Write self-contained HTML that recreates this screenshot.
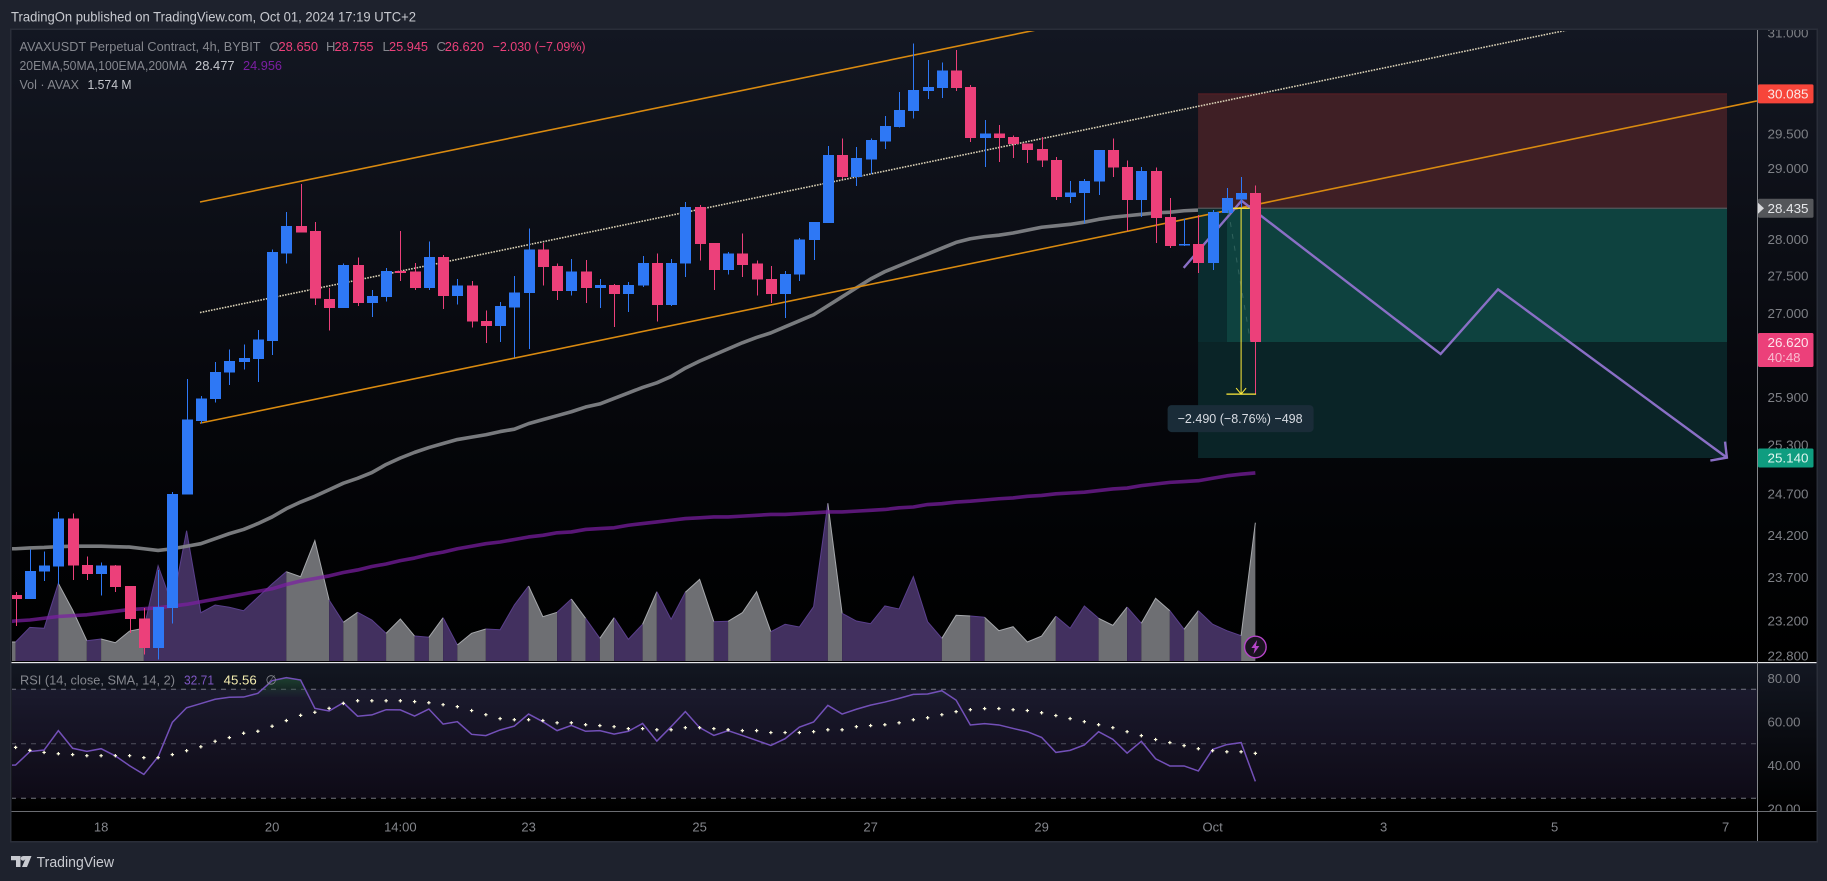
<!DOCTYPE html>
<html lang="en">
<head>
<meta charset="utf-8">
<title>AVAXUSDT Perpetual Contract 4h chart</title>
<style>
html,body{margin:0;padding:0;background:#1e222d;width:1827px;height:881px;overflow:hidden}
svg{display:block;font-family:"Liberation Sans",sans-serif}
</style>
</head>
<body>
<svg id="chart" xmlns="http://www.w3.org/2000/svg" width="1827" height="881" viewBox="0 0 1827 881">
  <defs>
    <linearGradient id="paneGrad" x1="0" y1="0" x2="0" y2="1"><stop offset="0" stop-color="#131722"/><stop offset="0.55" stop-color="#07080d"/><stop offset="0.8" stop-color="#020305"/><stop offset="1" stop-color="#000"/></linearGradient>
    <linearGradient id="rsiGrad" x1="0" y1="0" x2="0" y2="1"><stop offset="0" stop-color="#131722"/><stop offset="1" stop-color="#000"/></linearGradient>
    <linearGradient id="obGrad" gradientUnits="userSpaceOnUse" x1="0" y1="676" x2="0" y2="698"><stop offset="0" stop-color="#1e4431"/><stop offset="1" stop-color="#1e4431" stop-opacity="0"/></linearGradient>
    <clipPath id="mainClip"><rect x="12" y="31" width="1745" height="630"/></clipPath>
    <clipPath id="rsiClip"><rect x="12" y="663" width="1745" height="148"/></clipPath>
    <clipPath id="priceAxisClip"><rect x="1758" y="30" width="58" height="632"/></clipPath>
  </defs>

  <rect x="0" y="0" width="1827" height="881" fill="#1e222d"/>
  <text x="11" y="21.5" font-size="14" fill="#c8cad0" textLength="405" lengthAdjust="spacingAndGlyphs">TradingOn published on TradingView.com, Oct 01, 2024 17:19 UTC+2</text>

  <rect x="10" y="28.5" width="1808" height="814" fill="#2a2e39"/>
  <rect x="11.5" y="30" width="1805" height="811" fill="#000"/>
  <rect x="11.5" y="30" width="1745.5" height="632" fill="url(#paneGrad)"/>
  <rect x="1757" y="30" width="59.5" height="632" fill="url(#paneGrad)"/>
  <rect x="11.5" y="663" width="1745.5" height="148" fill="url(#rsiGrad)"/>
  <rect x="1757" y="663" width="59.5" height="148" fill="url(#rsiGrad)"/>
  <rect x="11.5" y="812" width="1805" height="29" fill="#000"/>

  <g id="volumeLayer" clip-path="url(#mainClip)"></g>
  <g id="maLayer" clip-path="url(#mainClip)"></g>
  <g id="drawLayer" clip-path="url(#mainClip)"></g>
  <g id="candleLayer" clip-path="url(#mainClip)"></g>
  <g id="topDrawLayer"></g>
  <g id="rsiLayer" clip-path="url(#rsiClip)"></g>

  <rect x="11.5" y="661" width="1745.5" height="1" fill="#000"/>
  <rect x="11.5" y="662" width="1805" height="1.2" fill="#e6e7ea"/>
  <rect x="11.5" y="811" width="1805" height="1" fill="#6b6d72"/>
  <rect x="1757" y="30" width="1" height="811" fill="#85878c"/>

  <g id="axisLayer"></g>

  <g font-size="13">
    <text x="19.5" y="51" fill="#85878e" textLength="241" lengthAdjust="spacingAndGlyphs">AVAXUSDT Perpetual Contract, 4h, BYBIT</text>
    <text x="269.5" y="51" fill="#85878e">O</text>
    <text x="278.5" y="51" fill="#ec407a" textLength="39.5" lengthAdjust="spacingAndGlyphs">28.650</text>
    <text x="326" y="51" fill="#85878e">H</text>
    <text x="334.5" y="51" fill="#ec407a" textLength="39" lengthAdjust="spacingAndGlyphs">28.755</text>
    <text x="382.5" y="51" fill="#85878e">L</text>
    <text x="389" y="51" fill="#ec407a" textLength="39" lengthAdjust="spacingAndGlyphs">25.945</text>
    <text x="436.5" y="51" fill="#85878e">C</text>
    <text x="444.7" y="51" fill="#ec407a" textLength="39.3" lengthAdjust="spacingAndGlyphs">26.620</text>
    <text x="492.6" y="51" fill="#ec407a" textLength="93" lengthAdjust="spacingAndGlyphs">−2.030 (−7.09%)</text>
    <text x="19.5" y="70" fill="#85878e" textLength="167.5" lengthAdjust="spacingAndGlyphs">20EMA,50MA,100EMA,200MA</text>
    <text x="195" y="70" fill="#c4c6cc" textLength="39.6" lengthAdjust="spacingAndGlyphs">28.477</text>
    <text x="243" y="70" fill="#7b1fa2" textLength="39" lengthAdjust="spacingAndGlyphs">24.956</text>
    <text x="19.5" y="89" fill="#85878e" textLength="59.5" lengthAdjust="spacingAndGlyphs">Vol · AVAX</text>
    <text x="87.5" y="89" fill="#c4c6cc" textLength="44" lengthAdjust="spacingAndGlyphs">1.574 M</text>
  </g>

  <g font-size="13">
    <text x="20" y="684.5" fill="#85878e" textLength="155" lengthAdjust="spacingAndGlyphs">RSI (14, close, SMA, 14, 2)</text>
    <text x="184" y="684.5" fill="#7e57c2" textLength="30" lengthAdjust="spacingAndGlyphs">32.71</text>
    <text x="223.7" y="684.5" fill="#f5eeb0" textLength="33" lengthAdjust="spacingAndGlyphs">45.56</text>
    <text x="265.5" y="684.5" fill="#85878e">∅</text>
  </g>

  <g>
    <path d="M11 856h9.5v11h-4.5v-6.8h-5zM23 856l8.5 0-4.5 11h-5l3.2-7.6z" fill="#c8cad0"/>
    <circle cx="23" cy="858.4" r="2.3" fill="#c8cad0"/>
    <text x="36.6" y="867" font-size="15" fill="#c8cad0" textLength="77.4" lengthAdjust="spacingAndGlyphs">TradingView</text>
  </g>
</svg>

<script>
// ---- chart data ----
const opens = [23.50,23.45,23.77,23.83,24.40,23.85,23.74,23.84,23.60,23.23,
22.89,23.35,24.69,25.60,25.88,26.22,26.36,26.40,26.63,27.81,
28.19,28.12,27.19,27.07,27.65,27.14,27.22,27.57,27.56,27.34,
27.76,27.23,27.37,26.90,26.83,27.08,27.27,27.86,27.64,27.30,
27.56,27.34,27.38,27.26,27.37,27.68,27.11,27.67,28.45,27.95,
27.58,27.81,27.67,27.46,27.26,27.52,27.99,28.23,29.19,28.88,
29.13,29.39,29.60,29.83,30.13,30.17,30.43,30.19,29.44,29.50,
29.45,29.36,29.28,29.12,28.59,28.65,28.81,29.26,29.02,28.55,
28.96,28.31,27.92,27.94,27.68,28.37,28.56,28.65];
const highs = [23.53,24.03,24.01,24.48,24.46,23.95,23.88,23.85,23.60,23.35,
23.79,24.72,26.14,25.92,26.36,26.52,26.59,26.78,27.86,28.38,
28.78,28.24,27.34,27.67,27.75,27.31,27.61,28.12,27.68,27.97,
27.79,27.46,27.43,27.04,27.15,27.50,28.15,27.95,27.67,27.73,
27.72,27.46,27.39,27.42,27.77,27.81,27.73,28.52,28.48,27.95,
27.83,28.08,27.71,27.64,27.57,28.02,28.24,29.32,29.43,29.31,
29.43,29.76,30.11,30.84,30.59,30.55,30.74,30.22,29.70,29.63,
29.47,29.36,29.45,29.16,28.82,28.85,29.26,29.43,29.11,29.02,
29.01,28.58,28.29,28.34,28.41,28.72,28.88,28.755];
const lows = [23.14,23.45,23.66,23.62,23.67,23.67,23.49,23.53,23.06,22.82,
22.76,23.17,24.69,25.57,25.84,26.06,26.26,26.10,26.45,27.67,
28.10,27.11,26.77,27.07,27.10,26.95,27.16,27.43,27.31,27.31,
27.06,27.12,26.81,26.61,26.62,26.42,26.53,27.37,27.18,27.24,
27.14,27.07,26.82,27.02,27.35,26.89,27.10,27.49,27.71,27.31,
27.52,27.49,27.24,27.14,26.94,27.43,27.72,28.23,28.85,28.75,
28.92,29.28,29.59,29.72,30.01,30.02,30.13,29.38,29.02,29.09,
29.15,29.08,29.02,28.55,28.51,28.22,28.62,28.88,28.12,28.31,
27.95,27.88,27.91,27.54,27.58,28.37,28.44,25.945];
const closes = [23.45,23.78,23.84,24.40,23.84,23.74,23.84,23.59,23.22,22.89,
23.36,24.70,25.62,25.89,26.23,26.37,26.41,26.65,27.83,28.19,
28.10,27.20,27.07,27.65,27.14,27.23,27.57,27.54,27.34,27.76,
27.23,27.37,26.89,26.83,27.10,27.28,27.86,27.62,27.30,27.56,
27.34,27.38,27.26,27.38,27.68,27.11,27.68,28.45,27.94,27.58,
27.81,27.65,27.45,27.26,27.53,28.00,28.24,29.19,28.88,29.15,
29.41,29.61,29.85,30.14,30.19,30.43,30.17,29.44,29.50,29.44,
29.35,29.26,29.11,28.59,28.66,28.82,29.26,29.01,28.55,28.96,
28.30,27.91,27.94,27.68,28.38,28.58,28.65,26.62];
const volumes = [.216,.383,.372,.884,.580,.231,.250,.208,.341,.372,
1.084,.637,1.482,.549,.637,.611,.572,.725,.876,1.016,
.959,1.369,.694,.440,.554,.466,.315,.478,.284,.270,
.493,.182,.315,.364,.356,.637,.853,.504,.554,.705,
.486,.258,.493,.247,.418,.788,.474,.782,.929,.447,
.452,.549,.788,.333,.418,.387,.618,1.794,.543,.455,
.424,.626,.592,.959,.447,.258,.520,.512,.497,.345,
.390,.216,.284,.509,.372,.626,.486,.406,.614,.429,
.713,.572,.361,.572,.418,.345,.288,1.574];
const ma50 = [24.04,24.05,24.055,24.065,24.07,24.07,24.07,24.065,24.06,24.04,
24.02,24.04,24.07,24.10,24.16,24.22,24.27,24.34,24.42,24.52,
24.60,24.67,24.75,24.83,24.89,24.96,25.06,25.14,25.21,25.27,
25.32,25.37,25.40,25.43,25.47,25.50,25.57,25.62,25.67,25.72,
25.78,25.82,25.89,25.96,26.03,26.09,26.17,26.28,26.37,26.45,
26.53,26.61,26.68,26.74,26.82,26.90,26.98,27.10,27.22,27.34,
27.46,27.56,27.64,27.72,27.80,27.88,27.96,28.01,28.04,28.06,
28.09,28.13,28.17,28.19,28.21,28.24,28.28,28.31,28.33,28.35,
28.37,28.38,28.40,28.41,28.43,28.46,28.47,28.477];
const ma200 = [23.20,23.21,23.23,23.25,23.26,23.27,23.29,23.31,23.33,23.34,
23.35,23.37,23.39,23.42,23.45,23.48,23.51,23.54,23.57,23.62,
23.66,23.69,23.72,23.76,23.79,23.83,23.86,23.90,23.93,23.97,
24.00,24.04,24.07,24.10,24.12,24.15,24.18,24.20,24.23,24.24,
24.27,24.28,24.29,24.32,24.34,24.36,24.38,24.40,24.41,24.42,
24.42,24.43,24.44,24.45,24.45,24.46,24.47,24.48,24.48,24.49,
24.50,24.51,24.53,24.54,24.57,24.58,24.60,24.61,24.625,24.64,
24.65,24.67,24.68,24.70,24.71,24.72,24.74,24.76,24.77,24.80,
24.82,24.84,24.85,24.86,24.89,24.92,24.94,24.956];
const rsiValues = [40.2,46.4,47.1,56.0,47.9,46.5,47.7,44.4,39.9,35.9,
44.0,59.8,66.5,68.4,70.4,71.3,71.4,73.1,78.9,80.3,
79.2,66.2,65.0,68.8,62.6,63.2,65.6,65.5,62.7,65.9,
59.0,60.1,54.3,53.7,56.3,58.1,63.6,60.1,56.0,58.4,
55.7,56.0,54.4,55.7,59.3,51.2,57.8,64.7,57.4,53.8,
56.0,53.8,51.5,49.2,52.3,57.6,59.95,67.6,63.6,65.8,
67.7,69.1,70.8,72.6,72.8,74.3,70.0,58.6,59.2,58.6,
57.0,55.5,52.9,46.0,46.95,49.4,55.5,52.0,45.7,51.1,
43.1,39.8,39.8,37.5,47.4,49.6,50.5,32.71];
const rsiMaValues = [48.3,46.95,46.0,45.4,45.0,44.5,44.5,44.5,44.5,43.6,
43.6,45.0,46.8,48.6,51.1,52.8,54.8,55.7,58.0,60.6,
63.0,64.4,66.2,68.5,69.7,69.7,69.7,69.7,69.3,68.8,
67.9,67.0,65.2,63.3,61.5,61.0,61.0,60.6,59.6,59.6,
58.7,58.3,57.8,56.9,56.9,56.4,56.4,57.35,57.35,56.9,
56.4,56.0,56.0,55.1,55.1,55.1,55.5,56.4,56.4,57.8,
58.3,58.7,59.6,61.0,61.9,63.3,64.7,65.6,66.1,66.1,
65.6,65.2,64.2,62.9,61.5,60.1,58.7,57.35,55.5,53.7,
51.9,50.5,49.1,47.7,46.8,46.3,46.3,45.56];
const priceTicks = [31,29.5,29,28,27.5,27,25.9,25.3,24.7,24.2,23.7,23.2,22.8];
const rsiTicks = [80,60,40,20];
const rsiLevels = [75,50,25];
const timeLabels = ['18','20','14:00','23','25','27','29','Oct','3','5','7'];
const timeBars = [6,18,27,36,48,60,72,84,96,108,120];
// drawings anchored in (bar, price)
const channelLowerBars = [12.94,122.2];
const channelLowerPrices = [25.576,29.98];
const channelUpperBars = [12.94,71.6];
const channelUpperPrices = [28.523,31.047];
const channelMidBars = [12.94,108.9];
const channelMidPrices = [27.009,31.047];
const projectionBars = [81.97,86.03,100.0,104.03,120.09];
const projectionPrices = [27.611,28.54,26.463,27.32,25.145];
const arrowBars = [118.93,120.09,119.96];
const arrowPrices = [25.108,25.145,25.344];
const stopPrice = 30.085, entryPrice = 28.435, targetPrice = 25.14, lastPrice = 26.62, measureLow = 25.945;
const boxStartBar = 82.98, boxEndBar = 120.1, activeStartBar = 85.01;

// ---- axis functions ----
const xAt = i => 15.6 + 14.25 * i;
const yPrice = p => 2028 * Math.log(31.51 / p);
const yVol = v => 661 - v * 87.9;
const yRsi = v => 678.3 + (80 - v) * 2.18;

const NS = 'http://www.w3.org/2000/svg';
function mk(parent, tag, attrs) {
  const e = document.createElementNS(NS, tag);
  for (const k in attrs) e.setAttribute(k, attrs[k]);
  parent.appendChild(e);
  return e;
}
const polyPts = (bars, vals, yf) => bars.map((b, i) => xAt(b).toFixed(2) + ',' + yf(vals[i]).toFixed(2)).join(' ');
const seriesPts = (vals, yf) => vals.map((v, i) => xAt(i).toFixed(2) + ',' + yf(v).toFixed(2)).join(' ');

const volumeLayer = document.getElementById('volumeLayer');
const maLayer = document.getElementById('maLayer');
const drawLayer = document.getElementById('drawLayer');
const candleLayer = document.getElementById('candleLayer');
const topDraw = document.getElementById('topDrawLayer');
const rsiLayer = document.getElementById('rsiLayer');
const axisLayer = document.getElementById('axisLayer');

// ---- volume area: contiguous same-direction bars form one filled run ----
function drawVolumeRun(start, end) {
  const up = closes[start] >= opens[start];
  const x0 = start === 0 ? 11 : xAt(start - 1);
  const y0 = start === 0 ? yVol(volumes[0]) : yVol(volumes[start - 1]);
  let line = x0.toFixed(2) + ',' + y0.toFixed(2);
  for (let i = start; i <= end; i++) line += ' ' + xAt(i).toFixed(2) + ',' + yVol(volumes[i]).toFixed(2);
  const area = mk(volumeLayer, 'polygon', {
    points: x0.toFixed(2) + ',661 ' + line + ' ' + xAt(end).toFixed(2) + ',661',
    fill: up ? '#42305f' : '#6e6f73'
  });
  
  
  const edge = mk(volumeLayer, 'polyline', { points: line, fill: 'none', stroke: up ? '#5a3f8c' : '#a6a8ac', 'stroke-width': 1 });
  
  
}
let runStart = 0;
for (let i = 1; i <= volumes.length; i++) {
  if (i === volumes.length || (closes[i] >= opens[i]) !== (closes[runStart] >= opens[runStart])) {
    drawVolumeRun(runStart, i - 1);
    runStart = i;
  }
}

// ---- moving averages ----
const lead50 = mk(maLayer, 'polyline', {
  points: '11,' + yPrice(ma50[0]) + ' ' + seriesPts(ma50, yPrice),
  fill: 'none', stroke: '#85878b', 'stroke-width': 3.6, 'stroke-opacity': 0.9, 'stroke-linejoin': 'round'
});


const lead200 = mk(maLayer, 'polyline', {
  points: '11,' + (yPrice(ma200[0]) + 0.6) + ' ' + seriesPts(ma200, yPrice),
  fill: 'none', stroke: '#7b1fa2', 'stroke-width': 3.6, 'stroke-opacity': 0.72, 'stroke-linejoin': 'round'
});



// ---- drawings ----
const bx = xAt(boxStartBar), bw = xAt(boxEndBar) - bx, ax = xAt(activeStartBar), aw = xAt(boxEndBar) - ax;
const stopBox = mk(drawLayer, 'rect', { x: bx, y: yPrice(stopPrice), width: bw, height: yPrice(entryPrice) - yPrice(stopPrice), fill: '#3f1f25' });


const stopEdge = mk(drawLayer, 'line', { x1: bx, x2: bx + bw, y1: yPrice(stopPrice), y2: yPrice(stopPrice), stroke: '#5c1f25', 'stroke-width': 1 });


const profitBox = mk(drawLayer, 'rect', { x: bx, y: yPrice(entryPrice), width: bw, height: yPrice(targetPrice) - yPrice(entryPrice), fill: '#0a2427' });


const leftStrip = mk(drawLayer, 'rect', { x: bx, y: yPrice(entryPrice), width: ax - bx, height: yPrice(lastPrice) - yPrice(entryPrice), fill: '#0a2c2f' });


const activeBox = mk(drawLayer, 'rect', { x: ax, y: yPrice(entryPrice), width: aw, height: yPrice(lastPrice) - yPrice(entryPrice), fill: '#0e423f' });


const entryLine = mk(drawLayer, 'line', { x1: bx, x2: bx + bw, y1: yPrice(entryPrice), y2: yPrice(entryPrice), stroke: '#55575b', 'stroke-width': 1.2 });



const lower = mk(drawLayer, 'polyline', { points: polyPts(channelLowerBars, channelLowerPrices, yPrice), fill: 'none', stroke: '#d98a10', 'stroke-width': 1.6 });


const upper = mk(drawLayer, 'polyline', { points: polyPts(channelUpperBars, channelUpperPrices, yPrice), fill: 'none', stroke: '#d98a10', 'stroke-width': 1.6 });


const mid = mk(drawLayer, 'polyline', { points: polyPts(channelMidBars, channelMidPrices, yPrice), fill: 'none', stroke: '#d8cfb4', 'stroke-width': 1.6, 'stroke-dasharray': '1.6 1.2' });



const proj = mk(drawLayer, 'polyline', { points: polyPts(projectionBars, projectionPrices, yPrice), fill: 'none', stroke: '#8a6fc6', 'stroke-width': 2.4, 'stroke-linejoin': 'miter' });


const head = mk(drawLayer, 'polyline', { points: polyPts(arrowBars, arrowPrices, yPrice), fill: 'none', stroke: '#8a6fc6', 'stroke-width': 2.4 });



// ---- candles ----
opens.forEach((o, i) => {
  const c = closes[i], up = c >= o, col = up ? '#2e78f5' : '#ec407a';
  const x = Math.round(xAt(i));
  const g = mk(candleLayer, 'g', { 'shape-rendering': 'crispEdges' });
  
  
  mk(g, 'rect', { x: x, y: yPrice(highs[i]), width: 1, height: yPrice(lows[i]) - yPrice(highs[i]), fill: col });
  const top = yPrice(Math.max(o, c)), bot = yPrice(Math.min(o, c));
  mk(g, 'rect', { x: x - 5, y: top, width: 11, height: Math.max(1, bot - top), fill: col });
});

// ---- measure tool ----
const mx = xAt(86), mTop = yPrice(entryPrice), mBot = yPrice(measureLow);
const dash = mk(topDraw, 'line', { x1: xAt(85.1), y1: mTop + 2, x2: xAt(86.66), y2: yPrice(lastPrice), stroke: '#3f6f6a', 'stroke-width': 1, 'stroke-opacity': 0.7, 'stroke-dasharray': '5 7' });


const mLine = mk(topDraw, 'line', { x1: mx, y1: mTop, x2: mx, y2: mBot, stroke: '#ffeb3b', 'stroke-width': 1 });


const mTopLine = mk(topDraw, 'line', { x1: xAt(85.43), y1: mTop, x2: xAt(86.6), y2: mTop, stroke: '#ffeb3b', 'stroke-width': 1.3 });


const mBotLine = mk(topDraw, 'line', { x1: xAt(84.97), y1: mBot, x2: xAt(87.05), y2: mBot, stroke: '#ffeb3b', 'stroke-width': 1.3 });


const mArrow = mk(topDraw, 'polyline', { points: (mx - 5) + ',' + (mBot - 6) + ' ' + mx + ',' + mBot + ' ' + (mx + 5) + ',' + (mBot - 6), fill: 'none', stroke: '#ffeb3b', 'stroke-width': 1 });


const mLabelBg = mk(topDraw, 'rect', { x: mx - 73.5, y: mBot + 11, width: 146, height: 27, rx: 4, fill: '#1a2c38' });


const mLabel = mk(topDraw, 'text', { x: mx - 63.5, y: mBot + 29, 'font-size': 13, fill: '#d8dce3', textLength: 125, lengthAdjust: 'spacingAndGlyphs' });
mLabel.textContent = '−2.490 (−8.76%) −498';



// lightning badge on latest bar
const bcx = xAt(87), bcy = 647;
const badge = mk(topDraw, 'circle', { cx: bcx, cy: bcy, r: 10.8, fill: '#1a1420', stroke: '#b544c8', 'stroke-width': 1.4 });


const bolt = mk(topDraw, 'polygon', { points: [[1.8,-7],[-4,1],[-0.6,1],[-1.8,7],[4,-1],[0.6,-1]].map(p => (bcx + p[0]) + ',' + (bcy + p[1])).join(' '), fill: '#b544c8' });



// ---- RSI pane ----
const band = mk(rsiLayer, 'rect', { x: 11, y: yRsi(rsiLevels[0]), width: 1746, height: yRsi(rsiLevels[2]) - yRsi(rsiLevels[0]), fill: '#7e57c2', 'fill-opacity': 0.1 });


rsiLevels.forEach((lv, i) => {
  const l = mk(rsiLayer, 'line', { x1: 11, x2: 1757, y1: yRsi(lv), y2: yRsi(lv), stroke: '#787b86', 'stroke-width': 1, 'stroke-dasharray': '5 5', 'stroke-opacity': i === 1 ? 0.6 : 0.95 });
  
  
});
const clipId = 'obClip';
const obClipDef = mk(document.querySelector('defs'), 'clipPath', { id: clipId });
mk(obClipDef, 'rect', { x: 11, y: 663, width: 1746, height: 35 });
const obArea = mk(rsiLayer, 'polygon', {
  points: xAt(0) + ',' + yRsi(71.5) + ' ' + seriesPts(rsiValues, yRsi) + ' ' + xAt(87) + ',' + yRsi(71.5),
  fill: 'url(#obGrad)', 'clip-path': 'url(#' + clipId + ')'
});


const rsiLine = mk(rsiLayer, 'polyline', { points: '11,' + yRsi(rsiValues[0]) + ' ' + seriesPts(rsiValues, yRsi), fill: 'none', stroke: '#7350b8', 'stroke-width': 1.5 });


rsiMaValues.forEach((v, i) => {
  const x = xAt(i), y = yRsi(v);
  const d = mk(rsiLayer, 'path', { d: 'M' + (x - 1.7) + ' ' + y + 'h3.4M' + x + ' ' + (y - 1.7) + 'v3.4', stroke: '#fffde0', 'stroke-width': 1.2, fill: 'none' });
  
  
});

// ---- axes ----
priceTicks.forEach(p => {
  const t = mk(axisLayer, 'text', { x: 1767.5, y: yPrice(p) + 4.6, 'font-size': 13, fill: '#7e8086', textLength: 41, lengthAdjust: 'spacingAndGlyphs', 'clip-path': 'url(#priceAxisClip)' });
  t.textContent = p.toFixed(3);
  
  
});
const rsiAxisClip = mk(document.querySelector('defs'), 'clipPath', { id: 'rsiAxisClip' });
mk(rsiAxisClip, 'rect', { x: 1758, y: 663, width: 58, height: 148 });
rsiTicks.forEach(v => {
  const t = mk(axisLayer, 'text', { x: 1767.5, y: yRsi(v) + 4.6, 'font-size': 13, fill: '#7e8086', textLength: 33, lengthAdjust: 'spacingAndGlyphs', 'clip-path': 'url(#rsiAxisClip)' });
  t.textContent = v.toFixed(2);
  
  
});
timeLabels.forEach((lab, i) => {
  const t = mk(axisLayer, 'text', { x: xAt(timeBars[i]), y: 831.5, 'font-size': 13, fill: '#84868c', 'text-anchor': 'middle' });
  t.textContent = lab;
  
  
});

// price badges
const stopBadge = mk(axisLayer, 'rect', { x: 1758, y: yPrice(stopPrice) - 9.5, width: 55.5, height: 19, rx: 1.5, fill: '#f7453a' });


const stopText = mk(axisLayer, 'text', { x: 1767.5, y: yPrice(stopPrice) + 4.6, 'font-size': 13, fill: '#fbe9e7', textLength: 41, lengthAdjust: 'spacingAndGlyphs' });
stopText.textContent = stopPrice.toFixed(3);


const entryBadge = mk(axisLayer, 'rect', { x: 1758, y: yPrice(entryPrice) - 9.5, width: 55.5, height: 19, rx: 1.5, fill: '#54565a' });


const entryArrow = mk(axisLayer, 'polygon', { points: '1758,' + (yPrice(entryPrice) - 5.5) + ' 1764,' + yPrice(entryPrice) + ' 1758,' + (yPrice(entryPrice) + 5.5), fill: '#d8d9dc' });


const entryText = mk(axisLayer, 'text', { x: 1767.5, y: yPrice(entryPrice) + 4.6, 'font-size': 13, fill: '#e6e7ea', textLength: 41, lengthAdjust: 'spacingAndGlyphs' });
entryText.textContent = entryPrice.toFixed(3);


const lastBadge = mk(axisLayer, 'rect', { x: 1758, y: yPrice(lastPrice) - 9, width: 55.5, height: 34, rx: 1.5, fill: '#ec407a' });


const lastText = mk(axisLayer, 'text', { x: 1767.5, y: yPrice(lastPrice) + 5.2, 'font-size': 13, fill: '#fde4ec', textLength: 41, lengthAdjust: 'spacingAndGlyphs' });
lastText.textContent = lastPrice.toFixed(3);


const countdown = mk(axisLayer, 'text', { x: 1767.5, y: yPrice(lastPrice) + 20, 'font-size': 13, fill: '#f9bbd0', textLength: 33, lengthAdjust: 'spacingAndGlyphs' });
countdown.textContent = '40:48';


const targetBadge = mk(axisLayer, 'rect', { x: 1758, y: yPrice(targetPrice) - 9.5, width: 55.5, height: 19, rx: 1.5, fill: '#0f9d80' });


const targetText = mk(axisLayer, 'text', { x: 1767.5, y: yPrice(targetPrice) + 4.6, 'font-size': 13, fill: '#e0f5ef', textLength: 41, lengthAdjust: 'spacingAndGlyphs' });
targetText.textContent = targetPrice.toFixed(3);


</script>
</body>
</html>
